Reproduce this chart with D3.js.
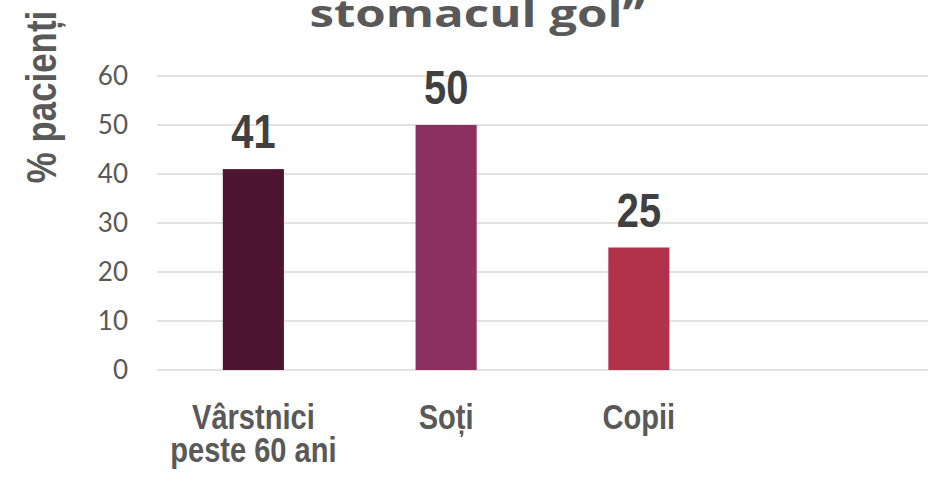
<!DOCTYPE html>
<html>
<head>
<meta charset="utf-8">
<script src="https://cdn.jsdelivr.net/npm/d3@7"></script>
<style>
  html, body { margin: 0; padding: 0; background: #fff; }
  svg { display: block; }
</style>
</head>
<body>
<svg id="chart" width="935" height="477"></svg>
<script>
// Date grafic
var categorii = [["Vârstnici", "peste 60 ani"], ["Soți"], ["Copii"], [""]];
var valori = [41, 50, 25, null];
var culori = ["#4d1532", "#8c3060", "#b0334b", "none"];
var ticks = [0, 10, 20, 30, 40, 50, 60];

var svg = d3.select("#chart");
var stanga = 157, dreapta = 928, sus = 76, jos = 370;
var ingust = 0.83; // fontul e condensat (Arial Narrow)

var x = d3.scaleBand()
    .domain(d3.range(categorii.length))
    .range([stanga, dreapta])
    .paddingInner(0.683)
    .paddingOuter(0.3415);

var y = d3.scaleLinear().domain([0, 60]).range([jos, sus]);

// Titlu (doar ultimul rand e vizibil)
svg.append("text")
    .attr("x", 477)
    .attr("y", 27)
    .attr("text-anchor", "middle")
    .attr("textLength", 335)
    .attr("lengthAdjust", "spacingAndGlyphs")
    .style("font", "bold 37px 'Open Sans', Lato, sans-serif")
    .style("fill", "#595959")
    .text("stomacul gol”");

// Linii de grila
svg.append("g").selectAll("line")
    .data(ticks)
    .join("line")
    .attr("x1", stanga).attr("x2", dreapta)
    .attr("y1", function (d) { return y(d); })
    .attr("y2", function (d) { return y(d); })
    .attr("stroke", "#d9d9d9")
    .attr("stroke-width", 1.6);

// Etichete axa Y
svg.append("g").selectAll("text")
    .data(ticks)
    .join("text")
    .attr("x", 128)
    .attr("y", function (d) { return y(d); })
    .attr("dy", "0.35em")
    .attr("text-anchor", "end")
    .style("font", "26px Lato, 'Open Sans', sans-serif")
    .style("fill", "#595959")
    .text(function (d) { return d; });

// Titlu axa Y
svg.append("text")
    .attr("transform", "translate(56,97) rotate(-90) scale(" + ingust + ",1)")
    .attr("text-anchor", "middle")
    .style("font", "bold 42px 'Liberation Sans', Arial, sans-serif")
    .style("fill", "#595959")
    .text("% pacienți");

// Bare
var date = valori.map(function (v, i) { return { i: i, v: v }; })
    .filter(function (d) { return d.v !== null; });

svg.append("g").selectAll("rect")
    .data(date)
    .join("rect")
    .attr("x", function (d) { return x(d.i); })
    .attr("width", x.bandwidth())
    .attr("y", function (d) { return y(d.v); })
    .attr("height", function (d) { return y(0) - y(d.v); })
    .attr("fill", function (d) { return culori[d.i]; });

// Valori deasupra barelor
svg.append("g").selectAll("text")
    .data(date)
    .join("text")
    .attr("transform", function (d) {
        return "translate(" + (x(d.i) + x.bandwidth() / 2) + "," + (y(d.v) - 21) + ") scale(" + ingust + ",1)";
    })
    .attr("text-anchor", "middle")
    .style("font", "bold 48px 'Liberation Sans', Arial, sans-serif")
    .style("fill", "#404040")
    .text(function (d) { return d.v; });

// Etichete categorii
var et = svg.append("g").selectAll("text")
    .data(categorii)
    .join("text")
    .attr("transform", function (d, i) {
        return "translate(" + (x(i) + x.bandwidth() / 2) + ",429) scale(" + ingust + ",1)";
    })
    .attr("text-anchor", "middle")
    .style("font", "bold 35px 'Liberation Sans', Arial, sans-serif")
    .style("fill", "#595959");

et.selectAll("tspan")
    .data(function (d) { return d; })
    .join("tspan")
    .attr("x", 0)
    .attr("dy", function (d, j) { return j === 0 ? 0 : 33; })
    .text(function (d) { return d; });
</script>
</body>
</html>
